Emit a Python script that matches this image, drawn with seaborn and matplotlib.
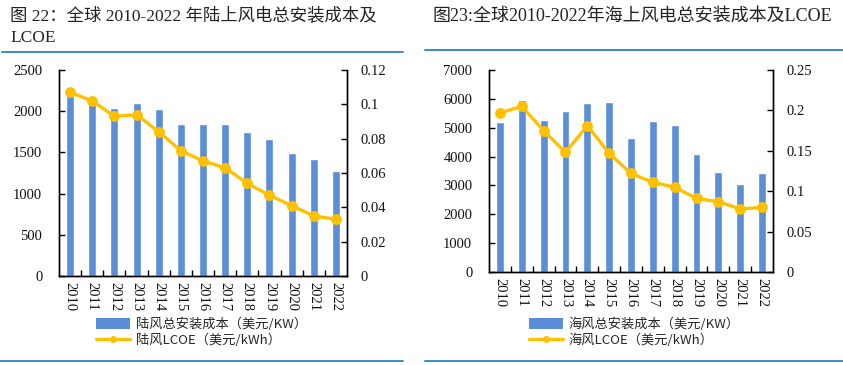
import matplotlib
matplotlib.use("Agg")
import matplotlib.pyplot as plt
from matplotlib.lines import Line2D
from matplotlib.patches import Patch
from matplotlib.ticker import FixedLocator, FuncFormatter
import seaborn as sns
import pandas as pd

years = [str(y) for y in range(2010, 2023)]

onshore_cost = [2190, 2130, 2040, 2100, 2030, 1840, 1845, 1850, 1750, 1660, 1490, 1420, 1270]
onshore_lcoe = [0.107, 0.102, 0.093, 0.094, 0.084, 0.073, 0.067, 0.063, 0.054, 0.047, 0.041, 0.035, 0.033]

offshore_cost = [5200, 5950, 5270, 5570, 5860, 5880, 4630, 5230, 5110, 4100, 3470, 3050, 3440]
offshore_lcoe = [0.197, 0.205, 0.175, 0.148, 0.181, 0.147, 0.122, 0.111, 0.105, 0.091, 0.087, 0.078, 0.080]

title_left = "图 22：全球 2010-2022 年陆上风电总安装成本及\nLCOE"
title_right = "图23:全球2010-2022年海上风电总安装成本及LCOE"
legend_left = ["陆风总安装成本（美元/KW）", "陆风LCOE（美元/kWh）"]
legend_right = ["海风总安装成本（美元/KW）", "海风LCOE（美元/kWh）"]

left_ticks = [0, 500, 1000, 1500, 2000, 2500]
left_rticks = [0, 0.02, 0.04, 0.06, 0.08, 0.10, 0.12]
right_ticks = [0, 1000, 2000, 3000, 4000, 5000, 6000, 7000]
right_rticks = [0, 0.05, 0.10, 0.15, 0.20, 0.25]

BAR = "#5B8ED6"
LINE = "#FFC000"
RULE = "#3A8DC0"

sns.set_theme(style="white")
plt.rcParams["font.family"] = ["Liberation Serif", "Noto Sans CJK SC", "DejaVu Sans"]
plt.rcParams["axes.unicode_minus"] = False

fig = plt.figure(figsize=(8.43, 3.65), dpi=100)

fmt = FuncFormatter(lambda v, p: "{:g}".format(round(v, 4)))


def panel(rect, cost, lcoe, yt, rt, legend_labels, leg_anchor):
    ax = fig.add_axes(rect)
    df = pd.DataFrame({"year": years, "cost": cost, "lcoe": lcoe})
    sns.barplot(data=df, x="year", y="cost", color=BAR, width=0.36,
                saturation=1, ax=ax, zorder=2)
    ax.set_ylim(yt[0], yt[-1])
    ax.set_yticks(yt)
    ax.set_xlim(-0.5, len(years) - 0.5)
    ax.set_xlabel("")
    ax.set_ylabel("")
    ax2 = ax.twinx()
    sns.pointplot(data=df, x="year", y="lcoe", color=LINE, markers="o",
                  markersize=6, linewidth=2.4, ax=ax2, zorder=3)
    ax2.set_ylim(rt[0], rt[-1])
    ax2.set_yticks(rt)
    ax2.yaxis.set_major_formatter(fmt)
    ax2.set_xlim(-0.5, len(years) - 0.5)
    ax2.set_xlabel("")
    ax2.set_ylabel("")

    for a in (ax, ax2):
        for s in a.spines.values():
            s.set_color("black")
            s.set_linewidth(1.0)
        a.spines["top"].set_visible(False)
        a.grid(False)
    ax.tick_params(axis="y", direction="in", length=4, width=1, color="black",
                   labelsize=10.5, pad=12, labelcolor="#111111")
    ax2.tick_params(axis="y", direction="in", length=4, width=1, color="black",
                    labelsize=10.5, pad=10, labelcolor="#111111")
    ax.set_xticks(range(len(years)))
    ax.set_xticklabels(years, rotation=-90, fontsize=10.5, color="#111111")
    ax.tick_params(axis="x", which="major", length=0, pad=4)
    ax.xaxis.set_minor_locator(FixedLocator([i + 0.5 for i in range(len(years) - 1)]))
    ax.tick_params(axis="x", which="minor", direction="in", length=4, width=1,
                   color="black", bottom=True)

    handles = [Patch(facecolor=BAR, edgecolor="none"),
               Line2D([], [], color=LINE, lw=2.4, marker="o", markersize=4)]
    fig.legend(handles, legend_labels, loc="upper left", bbox_to_anchor=leg_anchor,
               frameon=False, handlelength=2.6, handleheight=0.9,
               handletextpad=0.4, labelspacing=0.15, borderpad=0, borderaxespad=0,
               prop={"family": ["Noto Sans CJK SC"], "size": 9.5})
    return ax, ax2


panel([59 / 843, 1 - 276 / 365, 288 / 843, 206 / 365], onshore_cost, onshore_lcoe,
      left_ticks, left_rticks, legend_left, (96 / 843, 1 - 318 / 365))
panel([489 / 843, 1 - 272 / 365, 284 / 843, 202 / 365], offshore_cost, offshore_lcoe,
      right_ticks, right_rticks, legend_right, (529 / 843, 1 - 318 / 365))

fig.text(10 / 843, 1 - 8 / 365, title_left, ha="left", va="top", fontsize=12.5,
         color="#222222", linespacing=1.45,
         family=["Liberation Serif", "Noto Sans CJK SC"])
fig.text(432 / 843, 1 - 8 / 365, title_right, ha="left", va="top", fontsize=13,
         color="#222222", family=["Liberation Serif", "Noto Sans CJK SC"])

for (x0, x1, y) in [(2, 403, 52), (425, 843, 50), (0, 403, 361), (425, 843, 361)]:
    fig.add_artist(Line2D([x0 / 843, x1 / 843], [1 - y / 365, 1 - y / 365],
                          color=RULE, lw=1.4, transform=fig.transFigure))

fig.savefig("out.png", dpi=100)
